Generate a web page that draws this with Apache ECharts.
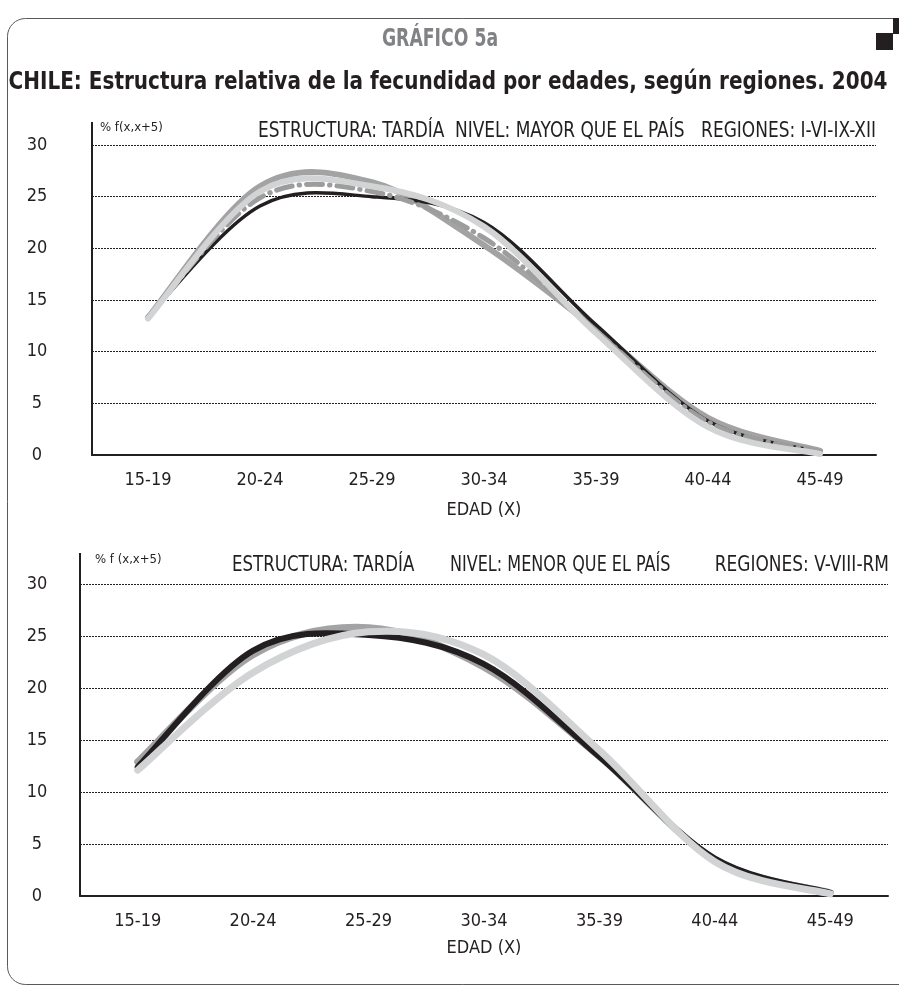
<!DOCTYPE html>
<html>
<head>
<meta charset="utf-8">
<script src="https://cdn.jsdelivr.net/npm/echarts@6/dist/echarts.min.js"></script>
<style>
  html, body { margin: 0; padding: 0; background: #fff; }
  #chart { width: 899px; height: 991px; }
</style>
</head>
<body>
<div id="chart"></div>
<script>
// grupos de edad
const edades = ['15-19', '20-24', '25-29', '30-34', '35-39', '40-44', '45-49']
const yTicks = [0, 5, 10, 15, 20, 25, 30]

// panel superior: regiones I-VI-IX-XII
const regionI = [13.3, 26.0, 26.4, 20.3, 12.2, 3.6, 0.4]
const regionVI = [13.4, 24.1, 25.0, 22.5, 12.6, 3.3, 0.3]
const regionIX = [13.3, 24.9, 25.5, 21.0, 12.0, 3.2, 0.3]
const regionXII = [13.2, 25.5, 26.0, 22.1, 11.8, 2.7, 0.1]

// panel inferior: regiones V-VIII-RM
const regionV = [12.9, 23.2, 25.8, 22.0, 13.4, 3.5, 0.3]
const regionVIII = [12.4, 23.6, 25.1, 22.3, 13.4, 3.6, 0.3]
const regionRM = [12.1, 21.5, 25.4, 23.2, 14.0, 3.3, 0.2]

const NARROW = "'Liberation Sans Narrow', 'DejaVu Sans Condensed', sans-serif"

const chart = echarts.init(document.getElementById('chart'))

function xAxes(gridIndex, nameGap) {
  return [
    {
      gridIndex: gridIndex,
      type: 'category',
      data: edades,
      boundaryGap: true,
      name: 'EDAD (X)',
      nameLocation: 'middle',
      nameGap: nameGap,
      nameTextStyle: { fontFamily: NARROW, fontSize: 18, color: '#231f20' },
      axisLine: { lineStyle: { color: '#231f20', width: 2 } },
      axisTick: { length: 8, lineStyle: { color: '#231f20', width: 2 } },
      axisLabel: { fontFamily: NARROW, fontSize: 18, color: '#231f20', margin: 16 }
    },
    {
      // ticks que cruzan el eje
      gridIndex: gridIndex,
      type: 'category',
      data: edades,
      boundaryGap: true,
      axisLine: { show: false },
      axisTick: { inside: true, length: 8, lineStyle: { color: '#231f20', width: 2 } },
      axisLabel: { show: false }
    }
  ]
}

function yAxis(gridIndex, margin) {
  return {
    gridIndex: gridIndex,
    type: 'value',
    min: yTicks[0],
    max: yTicks[yTicks.length - 1],
    interval: 5,
    axisLine: { show: true, lineStyle: { color: '#231f20', width: 2 } },
    axisTick: { show: false },
    axisLabel: { fontFamily: NARROW, fontSize: 18, color: '#231f20', align: 'center', margin: margin },
    splitLine: { lineStyle: { color: '#231f20', width: 1, type: [2, 1] } }
  }
}

// curva suavizada tipo Excel (Catmull-Rom) sobre las escalas de los ejes
function curva(name, values, xi, yi, color, width, dash) {
  return {
    name: name,
    type: 'custom',
    xAxisIndex: xi,
    yAxisIndex: yi,
    data: values.map((v, i) => [i, v]),
    renderItem: function (params, api) {
      if (params.dataIndex !== 0) return null
      const pts = values.map((v, i) => api.coord([i, v]))
      const n = pts.length
      let d = 'M' + pts[0][0] + ' ' + pts[0][1]
      for (let i = 0; i < n - 1; i++) {
        const p0 = pts[Math.max(i - 1, 0)]
        const p1 = pts[i]
        const p2 = pts[i + 1]
        const p3 = pts[Math.min(i + 2, n - 1)]
        const c1x = p1[0] + (p2[0] - p0[0]) / 6
        const c1y = p1[1] + (p2[1] - p0[1]) / 6
        const c2x = p2[0] - (p3[0] - p1[0]) / 6
        const c2y = p2[1] - (p3[1] - p1[1]) / 6
        d += ' C' + c1x + ' ' + c1y + ' ' + c2x + ' ' + c2y + ' ' + p2[0] + ' ' + p2[1]
      }
      return {
        type: 'path',
        shape: { pathData: d },
        style: {
          fill: 'none',
          stroke: color,
          lineWidth: width,
          lineCap: 'round',
          lineJoin: 'round',
          lineDash: dash || null
        }
      }
    }
  }
}

// texto condensado: se estrecha con scaleX
function texto(x, y, str, size, extra) {
  extra = extra || {}
  return {
    type: 'text',
    x: x,
    y: y,
    scaleX: extra.scaleX || 1,
    style: {
      text: str,
      font: (extra.bold ? 'bold ' : '') + size + 'px ' + NARROW,
      fill: extra.fill || '#231f20',
      textAlign: extra.align || 'left',
      textVerticalAlign: 'middle'
    }
  }
}

chart.setOption({
  animation: false,
  grid: [
    { left: 92, top: 145, width: 784, height: 310 },
    { left: 80, top: 584, width: 808, height: 312 }
  ],
  xAxis: xAxes(0, 46).concat(xAxes(1, 43)),
  yAxis: [yAxis(0, 55), yAxis(1, 43)],
  series: [
    curva('Región I', regionI, 0, 0, '#a3a3a3', 6),
    curva('Región VI', regionVI, 0, 0, '#231f20', 3.5),
    curva('Región IX', regionIX, 0, 0, '#9d9d9d', 5, [16, 7, 0.5, 7]),
    curva('Región XII', regionXII, 0, 0, '#d1d3d4', 6),
    curva('Región V', regionV, 2, 1, '#a3a3a3', 7),
    curva('Región VIII', regionVIII, 2, 1, '#231f20', 6),
    curva('Región RM', regionRM, 2, 1, '#d1d3d4', 7)
  ],
  graphic: [
    // marco
    { type: 'rect', shape: { x: 7.5, y: 18.5, width: 930, height: 966, r: 18 },
      style: { fill: 'none', stroke: '#58595b', lineWidth: 1 }, z: -1 },
    { type: 'rect', shape: { x: 876, y: 33, width: 17, height: 17 }, style: { fill: '#231f20' } },
    { type: 'rect', shape: { x: 893, y: 18, width: 6, height: 16 }, style: { fill: '#231f20' } },
    // títulos
    texto(440, 40, 'GRÁFICO 5a', 24, { bold: true, fill: '#808285', align: 'center', scaleX: 0.8 }),
    texto(448, 82, 'CHILE: Estructura relativa de la fecundidad por edades, según regiones. 2004', 25,
      { bold: true, align: 'center', scaleX: 0.89 }),
    // panel superior
    { type: 'line', shape: { x1: 92, y1: 122, x2: 92, y2: 145 }, style: { stroke: '#231f20', lineWidth: 2 } },
    texto(100, 128, '% f(x,x+5)', 13),
    texto(258, 132, 'ESTRUCTURA: TARDÍA', 21, { scaleX: 0.9 }),
    texto(455, 132, 'NIVEL: MAYOR QUE EL PAÍS', 21, { scaleX: 0.9 }),
    texto(876, 132, 'REGIONES: I-VI-IX-XII', 21, { align: 'right', scaleX: 0.9 }),
    // panel inferior
    { type: 'line', shape: { x1: 80, y1: 553, x2: 80, y2: 584 }, style: { stroke: '#231f20', lineWidth: 2 } },
    texto(95, 560, '% f (x,x+5)', 13),
    texto(232, 566, 'ESTRUCTURA: TARDÍA', 21, { scaleX: 0.88 }),
    texto(450, 566, 'NIVEL: MENOR QUE EL PAÍS', 21, { scaleX: 0.85 }),
    texto(889, 566, 'REGIONES: V-VIII-RM', 21, { align: 'right', scaleX: 0.9 })
  ]
})
</script>
</body>
</html>
